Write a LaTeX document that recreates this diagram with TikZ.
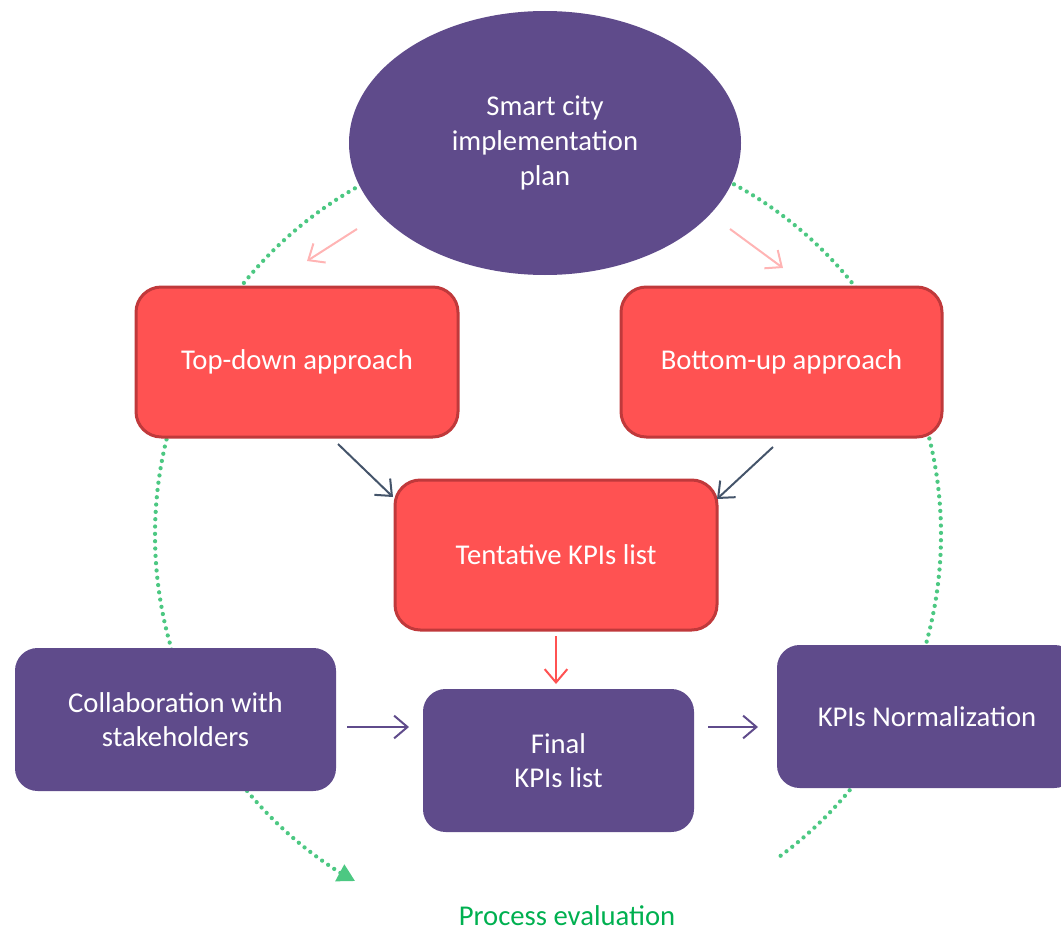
\documentclass[tikz,border=0pt]{standalone}
\usepackage{fontspec}
\setmainfont{Carlito}
\usetikzlibrary{arrows.meta,shapes.geometric,calc}
\definecolor{cpurple}{RGB}{95,75,139}
\definecolor{cred}{RGB}{255,82,82}
\definecolor{credb}{RGB}{192,57,59}
\definecolor{cpink}{RGB}{255,180,180}
\definecolor{cslate}{RGB}{68,84,106}
\definecolor{cgreen}{RGB}{76,200,130}
\definecolor{ctxtgreen}{RGB}{0,176,80}
\tikzset{
  redbox/.style={draw=credb,line width=2.25pt,fill=cred,rounded corners=19pt,text=white,align=center,font=\fontsize{21.5}{26}\selectfont},
  purplebox/.style={fill=cpurple,rounded corners=17pt,text=white,align=center,font=\fontsize{21.5}{26}\selectfont},
  barb/.style={-{Straight Barb[length=10pt,width=17pt]},line width=1.5pt},
}
\begin{document}
\begin{tikzpicture}[x=0.75pt,y=-0.75pt]
\useasboundingbox (0,0) rectangle (1061,931);
\clip (0,0) rectangle (1061,931);
% green dotted evaluation arc
\coordinate (arcc) at (548,535);
\coordinate (arcs) at ($(arcc)+(53.7:393 and 398)$);
\coordinate (arcpre) at ($(arcc)+(-238.6:393 and 398)$);
\coordinate (arcend) at (355,881);
\draw[cgreen,line width=3.2pt,line cap=round,dash pattern=on 0pt off 5.5pt]
  (arcs) arc[start angle=53.7,end angle=-238.6,x radius=393,y radius=398];
\draw[cgreen,line width=2pt,-{Triangle[length=13pt,width=14pt]}] (arcpre) -- (arcend);
% nodes
\node[ellipse,fill=cpurple,minimum width=392*0.75pt,minimum height=264*0.75pt,text=white,align=center,font=\fontsize{21.5}{26}\selectfont] (ell) at (545,143) {Smart city\\implementation\\plan};
\node[redbox,minimum width=322*0.75pt,minimum height=150*0.75pt] (td) at (297,362) {Top-down approach};
\node[redbox,minimum width=321*0.75pt,minimum height=150*0.75pt] (bu) at (781.5,362) {Bottom-up approach};
\node[redbox,minimum width=322*0.75pt,minimum height=150*0.75pt] (tk) at (556,555) {Tentative KPIs list};
\node[purplebox,minimum width=321*0.75pt,minimum height=143*0.75pt] (co) at (175.5,719.5) {Collaboration with\\stakeholders};
\node[purplebox,minimum width=271*0.75pt,minimum height=143*0.75pt] (fi) at (558.5,760.5) {Final\\KPIs list};
\node[purplebox,minimum width=300*0.75pt,minimum height=143*0.75pt] (kn) at (927,716.5) {KPIs Normalization};
\node[text=ctxtgreen,inner sep=0pt,font=\fontsize{21.5}{26}\selectfont] (pe) at (567,916) {Process evaluation};
% arrow end points
\coordinate (p1s) at (357,229); \coordinate (p1e) at (307,261);
\coordinate (p2s) at (730,229); \coordinate (p2e) at (783,268);
\coordinate (s1s) at (338,444); \coordinate (s1e) at (393,497);
\coordinate (s2s) at (773,447); \coordinate (s2e) at (717,499);
\coordinate (r1s) at (556,636); \coordinate (r1e) at (556,684);
\coordinate (u1s) at (347,727); \coordinate (u1e) at (409,727);
\coordinate (u2s) at (708,727); \coordinate (u2e) at (758,727);
% connectors
\draw[barb,cpink] (p1s) -- (p1e);
\draw[barb,cpink] (p2s) -- (p2e);
\draw[barb,cslate] (s1s) -- (s1e);
\draw[barb,cslate] (s2s) -- (s2e);
\draw[barb,cred] (r1s) -- (r1e);
\draw[barb,cpurple] (u1s) -- (u1e);
\draw[barb,cpurple] (u2s) -- (u2e);
\end{tikzpicture}
\end{document}
